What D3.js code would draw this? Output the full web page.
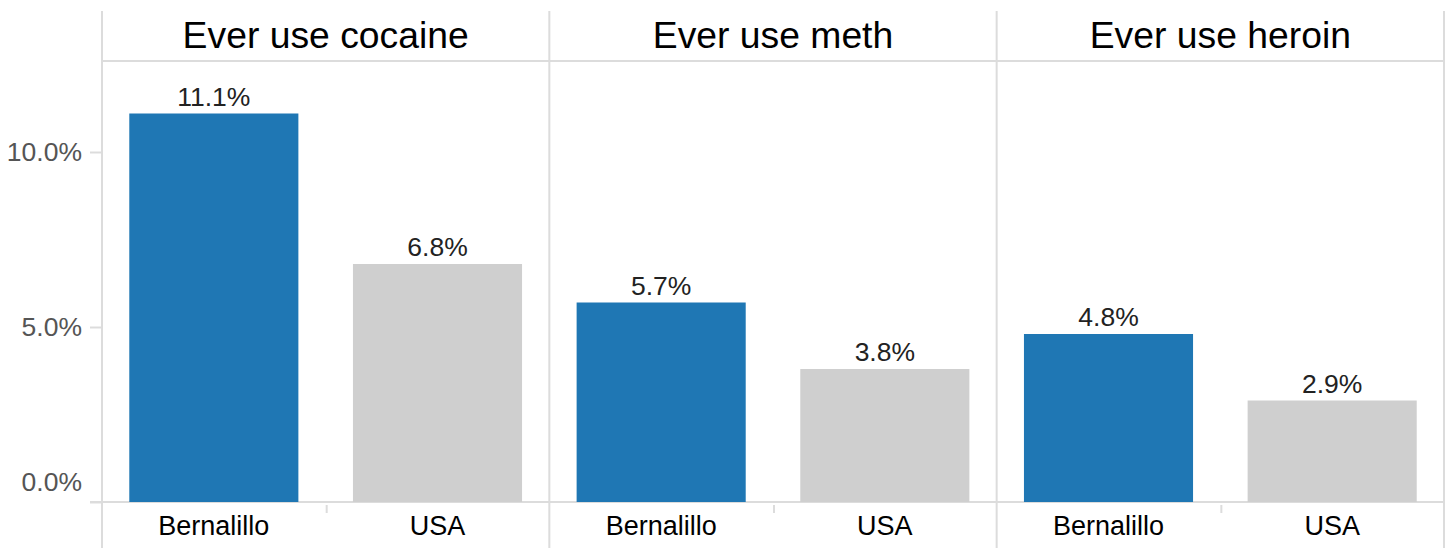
<!DOCTYPE html>
<html>
<head>
<meta charset="utf-8">
<script src="https://cdn.jsdelivr.net/npm/d3@7"></script>
<style>
  body { margin: 0; background: #fff; }
  svg text { font-family: "Liberation Sans", Arial, sans-serif; }
</style>
</head>
<body>
<script>
// data
const panels = ["Ever use cocaine", "Ever use meth", "Ever use heroin"];
const groups = ["Bernalillo", "USA"];
const bernalillo = [11.1, 5.7, 4.8];
const usa = [6.8, 3.8, 2.9];
const yTicks = [0, 5, 10];

const W = 1447, H = 548;
const plotLeft = 102, plotRight = 1444;
const plotTop = 11, headerBottom = 61, base = 502;

const gridColor = "#dcdcdc";
const colors = {Bernalillo: "#1f77b4", USA: "#cfcfcf"};

let svg = d3.select("body").append("svg")
  .attr("width", W)
  .attr("height", H);

let xPanel = d3.scaleBand().domain(panels).range([plotLeft, plotRight]).padding(0);
let xGroup = d3.scaleBand().domain(groups).range([0, xPanel.bandwidth()])
  .paddingInner(0.244).paddingOuter(0.122);
let yScale = d3.scaleLinear().domain([0, 12.6]).range([base, headerBottom]);

let rows = [];
panels.forEach(function(p, i) {
  rows.push({panel: p, group: "Bernalillo", value: bernalillo[i]});
  rows.push({panel: p, group: "USA", value: usa[i]});
});

// y axis
let yAxis = d3.axisLeft(yScale)
  .tickValues(yTicks)
  .tickFormat(function(d){ return d.toFixed(1) + "%"; })
  .tickSize(12)
  .tickPadding(8);

let yg = svg.append("g")
  .attr("transform", "translate(" + plotLeft + ",0)")
  .call(yAxis);
yg.select(".domain").remove();
yg.selectAll(".tick line").attr("stroke", gridColor).attr("stroke-width", 2);
yg.selectAll(".tick text")
  .style("font-size", "26.5px")
  .style("fill", "#555");
// zero label sits above the baseline like Tableau does
yg.selectAll(".tick").filter(function(d){ return d === 0; })
  .select("text").attr("dy", "-0.42em");

// header separator
svg.append("line")
  .attr("x1", plotLeft).attr("x2", plotRight)
  .attr("y1", headerBottom).attr("y2", headerBottom)
  .attr("stroke", gridColor).attr("stroke-width", 2);

// baseline
svg.append("line")
  .attr("x1", 90).attr("x2", plotRight)
  .attr("y1", base).attr("y2", base)
  .attr("stroke", gridColor).attr("stroke-width", 2);

// panel borders
let edges = panels.map(function(p){ return xPanel(p); }).concat([plotRight]);
svg.selectAll(".edge")
  .data(edges)
  .enter()
  .append("line")
  .attr("class", "edge")
  .attr("x1", function(d){ return d; })
  .attr("x2", function(d){ return d; })
  .attr("y1", plotTop).attr("y2", H)
  .attr("stroke", gridColor).attr("stroke-width", 2);

// panel titles
svg.selectAll(".title")
  .data(panels)
  .enter()
  .append("text")
  .attr("class", "title")
  .attr("x", function(d){ return xPanel(d) + xPanel.bandwidth() / 2; })
  .attr("y", 47.5)
  .attr("text-anchor", "middle")
  .style("font-size", "37.3px")
  .style("fill", "#000")
  .text(function(d){ return d; });

// bars
svg.selectAll(".bar")
  .data(rows)
  .enter()
  .append("rect")
  .attr("class", "bar")
  .attr("x", function(d){ return xPanel(d.panel) + xGroup(d.group); })
  .attr("width", xGroup.bandwidth())
  .attr("y", function(d){ return yScale(d.value); })
  .attr("height", function(d){ return base - yScale(d.value); })
  .attr("fill", function(d){ return colors[d.group]; });

// value labels
svg.selectAll(".val")
  .data(rows)
  .enter()
  .append("text")
  .attr("class", "val")
  .attr("x", function(d){ return xPanel(d.panel) + xGroup(d.group) + xGroup.bandwidth() / 2; })
  .attr("y", function(d){ return yScale(d.value) - 8; })
  .attr("text-anchor", "middle")
  .style("font-size", "26.5px")
  .style("fill", "#222")
  .text(function(d){ return d.value.toFixed(1) + "%"; });

// x axis per panel
panels.forEach(function(p) {
  let xAxis = d3.axisBottom(xGroup).tickSize(0).tickPadding(0);
  let xg = svg.append("g")
    .attr("transform", "translate(" + xPanel(p) + "," + base + ")")
    .call(xAxis);
  xg.select(".domain").remove();
  xg.selectAll(".tick text")
    .attr("y", 32.5)
    .attr("dy", 0)
    .style("font-size", "27px")
    .style("fill", "#000");
  // divider tick between categories
  xg.append("line")
    .attr("x1", xPanel.bandwidth() / 2 + 1)
    .attr("x2", xPanel.bandwidth() / 2 + 1)
    .attr("y1", 3).attr("y2", 11)
    .attr("stroke", gridColor).attr("stroke-width", 2);
});
</script>
</body>
</html>
